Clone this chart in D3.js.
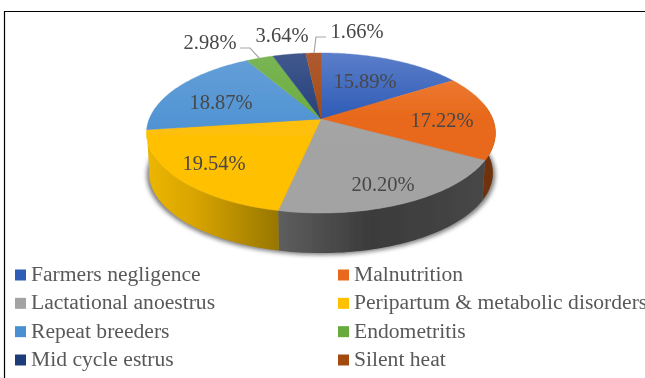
<!DOCTYPE html>
<html>
<head>
<meta charset="utf-8">
<script src="https://cdn.jsdelivr.net/npm/d3@7"></script>
<style>
    html, body { margin: 0; padding: 0; background: #fff; overflow: hidden; }
    svg { display: block; }
    text { font-family: "Liberation Serif", serif; fill: #595959; }
</style>
</head>
<body>
<div id="chart"></div>
<script>
const categories = ["Farmers negligence", "Malnutrition", "Lactational anoestrus", "Peripartum & metabolic disorders",
    "Repeat breeders", "Endometritis", "Mid cycle estrus", "Silent heat"];
const shares = [15.89, 17.22, 20.20, 19.54, 18.87, 2.98, 3.64, 1.66];
const topLight = ["#5b7ec9", "#ef8444", "#aaaaaa", "#fdc030", "#659fd8", "#7bb555", "#41588c", "#ae5a30"];
const topDark = ["#2f5cb6", "#e8691a", "#a3a3a3", "#ffc000", "#4a90d2", "#68ab3c", "#1f3d7a", "#a34a10"];

const width = 645;
const height = 378;

const svg = d3.select("#chart").append("svg").attr("width", width).attr("height", height);
const defs = svg.append("defs");

// tilted disc: unit circle through a small perspective divide
const px = 321, py = 119, rx = 171.8, ry = 77.6, persp = 0.175, depth = 40;
const project = (a, dy = 0, scale = 1) => {
    const u = Math.sin(a), v = -Math.cos(a), w = 1 - persp * v;
    return [px + scale * rx * u / w, py + dy + ry * v / w];
};
const arcPoints = (a0, a1, dy = 0, scale = 1) => d3.range(0, 61).map(i => project(a0 + (a1 - a0) * i / 60, dy, scale));
const line = d3.line();

const slices = d3.pie().sort(null).value(d => d)(shares);

defs.append("filter").attr("id", "shadow").attr("x", "-10%").attr("y", "-10%").attr("width", "120%").attr("height", "130%")
    .append("feGaussianBlur").attr("stdDeviation", 2.2);
defs.append("filter").attr("id", "soft").attr("x", "-5%").attr("y", "-5%").attr("width", "110%").attr("height", "110%")
    .append("feGaussianBlur").attr("stdDeviation", 0.45);

shares.forEach((d, i) => {
    const g = defs.append("linearGradient").attr("id", "top" + i)
        .attr("gradientUnits", "userSpaceOnUse").attr("x1", 0).attr("y1", 53).attr("x2", 0).attr("y2", i < 2 ? 160 : 213);
    g.append("stop").attr("offset", 0).attr("stop-color", topLight[i]);
    g.append("stop").attr("offset", i > 4 ? 0.5 : 0.6).attr("stop-color", topDark[i]);
});
const goldSide = defs.append("linearGradient").attr("id", "sideGold").attr("gradientUnits", "userSpaceOnUse")
    .attr("x1", 147).attr("y1", 0).attr("x2", 278).attr("y2", 0);
[["0", "#ecb600"], ["0.35", "#d9a500"], ["1", "#987700"]].forEach(s => goldSide.append("stop").attr("offset", s[0]).attr("stop-color", s[1]));
const graySide = defs.append("linearGradient").attr("id", "sideGray").attr("gradientUnits", "userSpaceOnUse")
    .attr("x1", 278).attr("y1", 0).attr("x2", 486).attr("y2", 0);
[["0", "#5e5e5e"], ["0.45", "#3b3b3b"], ["1", "#474747"]].forEach(s => graySide.append("stop").attr("offset", s[0]).attr("stop-color", s[1]));

// frame
const frame = svg.append("g").attr("stroke", "#000").attr("stroke-width", 1.2);
frame.append("line").attr("x1", 4.5).attr("x2", width).attr("y1", 11.5).attr("y2", 11.5);
frame.append("line").attr("x1", 4.5).attr("x2", 4.5).attr("y1", 11).attr("y2", height);

// shadow under the pie
svg.append("path")
    .attr("d", line(arcPoints(0, 2 * Math.PI, depth + 2)) + "Z")
    .attr("fill", "#555").attr("opacity", 0.75).attr("filter", "url(#shadow)");

const pie = svg.append("g").attr("filter", "url(#soft)");

// side wall: malnutrition, lactational, peripartum are the only ones that show
const sideFill = { 1: "#6f3208", 2: "url(#sideGray)", 3: "url(#sideGold)" };
[1, 2, 3].forEach(i => {
    const s = slices[i];
    const a0 = Math.max(s.startAngle, Math.PI / 2 - 0.2);
    const a1 = s.endAngle;
    const pts = arcPoints(a0, a1).concat(arcPoints(a0, a1, depth, 0.985).reverse());
    pie.append("path").attr("d", line(pts) + "Z").attr("fill", sideFill[i]);
});

// top face
slices.forEach((s, i) => {
    const pts = [[px, py]].concat(arcPoints(s.startAngle, s.endAngle));
    pie.append("path").attr("d", line(pts) + "Z").attr("fill", `url(#top${i})`)
        .attr("stroke", `url(#top${i})`).attr("stroke-width", 0.4);
});

// data labels, placed by hand like the source
const labelPos = [[365, 81], [442, 120], [383, 184], [214, 163], [221, 102], [210, 42], [282, 35], [357, 31]];
const soft = svg.append("g").attr("filter", "url(#soft)");
soft.selectAll("text.value").data(shares).enter().append("text")
    .attr("class", "value")
    .attr("x", (d, i) => labelPos[i][0])
    .attr("y", (d, i) => labelPos[i][1] + 7)
    .attr("text-anchor", "middle")
    .attr("font-size", 20.5)
    .style("fill", "#474747")
    .text(d => d.toFixed(2) + "%");

// leader lines
const leaders = [
    [[240, 48], [250, 48], [260, 59]],
    [[326, 37], [316, 37], [314, 53]]
];
soft.selectAll("path.leader").data(leaders).enter().append("path")
    .attr("class", "leader")
    .attr("d", line)
    .attr("fill", "none").attr("stroke", "#a6a6a6").attr("stroke-width", 1.2);

// legend
const legendX = d3.scalePoint().domain([0, 1]).range([15, 338]);
const legendY = d3.scalePoint().domain([0, 1, 2, 3]).range([275, 360]);
const legend = svg.append("g").attr("filter", "url(#soft)");
categories.forEach((c, i) => {
    const x = legendX(i % 2), y = legendY(Math.floor(i / 2));
    legend.append("rect").attr("x", x).attr("y", y - 5.5).attr("width", 11).attr("height", 11).attr("fill", topDark[i]);
    legend.append("text").attr("x", x + 16).attr("y", y + 6).attr("font-size", 21.6).text(c);
});
</script>
</body>
</html>
